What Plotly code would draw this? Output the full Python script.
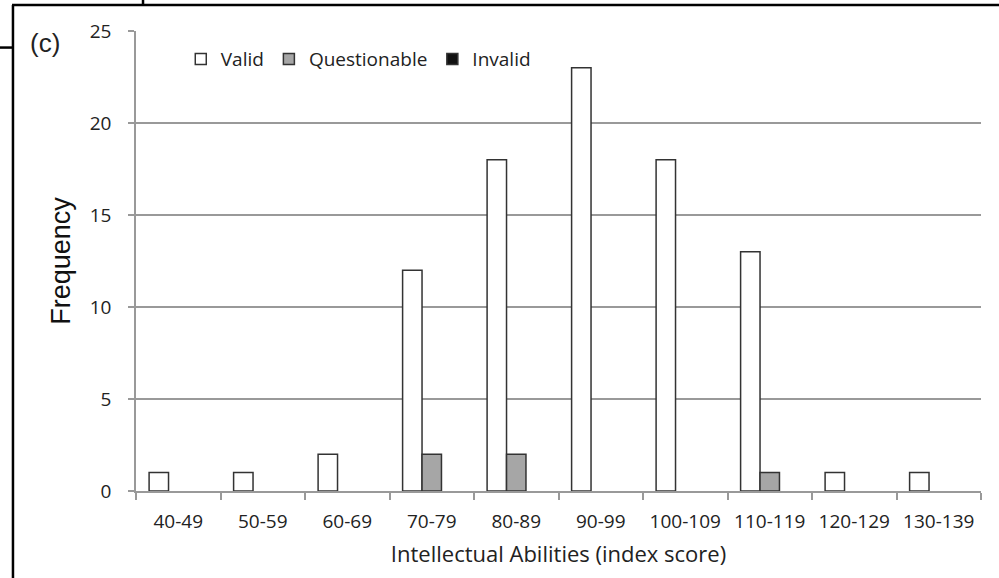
import plotly.graph_objects as go

categories = ["40-49", "50-59", "60-69", "70-79", "80-89", "90-99",
              "100-109", "110-119", "120-129", "130-139"]
valid = [1, 1, 2, 12, 18, 23, 18, 13, 1, 1]
questionable = [0, 0, 0, 2, 2, 0, 0, 1, 0, 0]
invalid = [0, 0, 0, 0, 0, 0, 0, 0, 0, 0]
y_ticks = [0, 5, 10, 15, 20, 25]

series_names = ["Valid", "Questionable", "Invalid"]
series_values = [valid, questionable, invalid]
series_colors = ["white", "#a6a6a6", "#111111"]

body_font = "Open Sans, Lato, sans-serif"
edge = "#333333"
text_col = "#222222"


def widths(vals):
    return [1.5 if v > 0 else 0 for v in vals]


fig = go.Figure()
for name, vals, col in zip(series_names, series_values, series_colors):
    fig.add_trace(go.Bar(name=name, x=categories, y=vals, showlegend=False,
                         marker=dict(color=col, line=dict(color=edge, width=widths(vals)))))
# legend entries (outlined squares)
for name, col in zip(series_names, series_colors):
    fig.add_trace(go.Scatter(name=name, x=[None], y=[None], mode="markers",
                             marker=dict(symbol="square", size=11, color=col,
                                         line=dict(color=edge, width=1.5))))

fig.update_layout(
    width=999, height=578,
    margin=dict(l=136, r=18, t=31, b=87),
    paper_bgcolor="white", plot_bgcolor="white",
    barmode="group", bargap=0.31, bargroupgap=0,
    font=dict(family=body_font, size=19, color=text_col),
    showlegend=True,
    legend=dict(orientation="h", x=0.053, y=0.939, xanchor="left", yanchor="middle",
                font=dict(family=body_font, size=19, color=text_col),
                bgcolor="rgba(0,0,0,0)", itemwidth=30, tracegroupgap=0,
                traceorder="normal"),
    xaxis=dict(
        type="category", range=[-0.5, 9.5],
        showline=True, linecolor="#999999", linewidth=1.5,
        ticks="outside", tickson="boundaries", ticklen=7, tickcolor="#999999", tickwidth=1.5,
        tickfont=dict(family=body_font, size=19, color=text_col),
        ticklabelstandoff=12,
        showgrid=False, zeroline=False,
        title=dict(text="Intellectual Abilities (index score)", standoff=14,
                   font=dict(family=body_font, size=22, color=text_col)),
    ),
    yaxis=dict(
        range=[0, 25], tickvals=y_ticks,
        showline=True, linecolor="#999999", linewidth=1.5,
        ticks="outside", ticklen=6, tickcolor="#999999", tickwidth=1.5,
        tickfont=dict(family=body_font, size=19, color=text_col),
        showgrid=True, gridcolor="#999999", gridwidth=1.5, zeroline=False,
        ticklabelstandoff=13,
        title=dict(text="Frequency", standoff=11,
                   font=dict(family="Liberation Sans, Arial, sans-serif", size=27, color="#111111")),
    ),
)

# panel label
fig.add_annotation(text="(c)", xref="paper", yref="paper", x=-0.1077, y=0.974,
                   xanchor="center", yanchor="middle", showarrow=False,
                   font=dict(family="Liberation Sans, Arial, sans-serif", size=26, color=text_col))

# surrounding frame lines of the original figure panel
frame = dict(color="black", width=2.5)
fig.add_shape(type="line", xref="paper", yref="paper", x0=-0.1467, x1=1.03, y0=1.0565, y1=1.0565,
              line=frame)
fig.add_shape(type="line", xref="paper", yref="paper", x0=-0.1456, x1=-0.1456, y0=1.0565, y1=-0.2,
              line=frame)
fig.add_shape(type="line", xref="paper", yref="paper", x0=-0.17, x1=-0.1456, y0=0.964, y1=0.964,
              line=frame)
fig.add_shape(type="line", xref="paper", yref="paper", x0=0.0083, x1=0.0083, y0=1.0565, y1=1.08,
              line=frame)

fig.write_html("out.html", config={"displayModeBar": False},
               post_script="document.body.style.margin='0';")
